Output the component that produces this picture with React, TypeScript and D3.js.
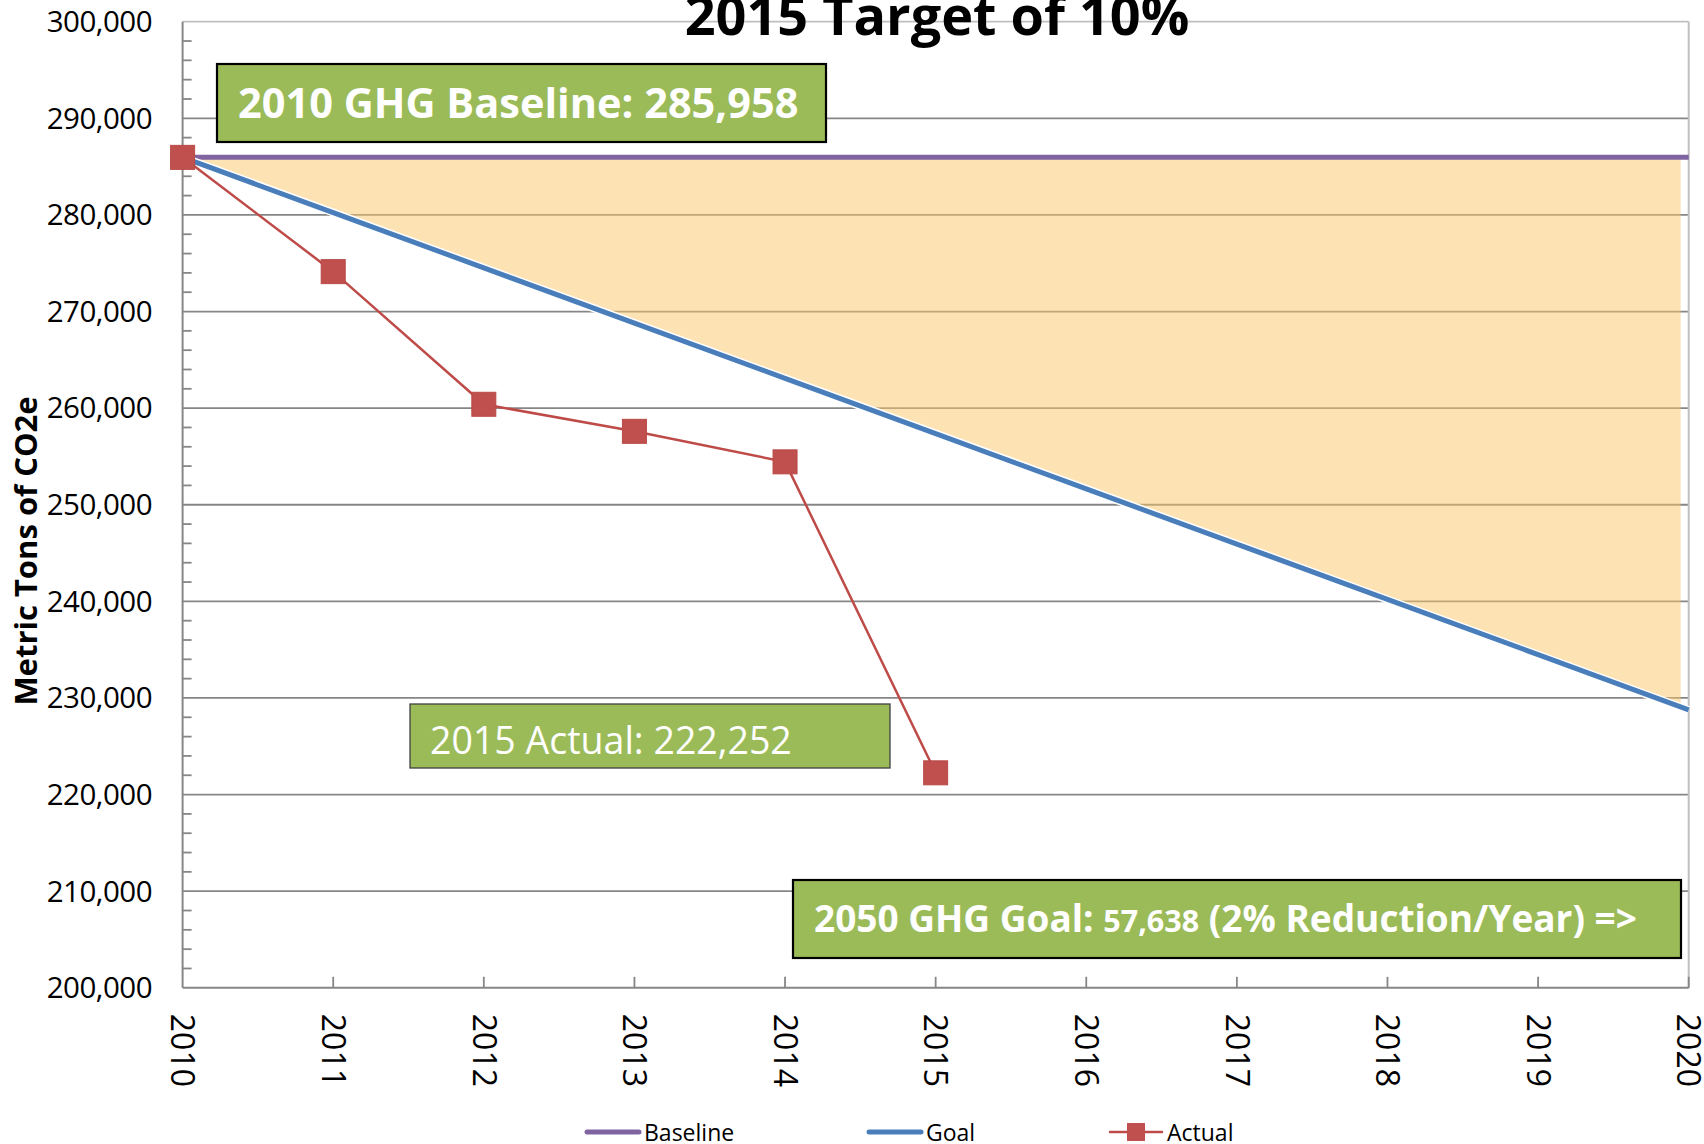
import { useEffect, useRef } from "react";
import * as d3 from "d3";

const years = [2010, 2011, 2012, 2013, 2014, 2015, 2016, 2017, 2018, 2019, 2020];
const baseline = [285958, 285958, 285958, 285958, 285958, 285958, 285958, 285958, 285958, 285958, 285958];
const goal = [285958, 280239, 274520, 268800, 263081, 257362, 251643, 245924, 240204, 234485, 228766];
const actualYears = [2010, 2011, 2012, 2013, 2014, 2015];
const actual = [285958, 274130, 260400, 257600, 254440, 222252];
const yTicks = [200000, 210000, 220000, 230000, 240000, 250000, 260000, 270000, 280000, 290000, 300000];

const FONT = "'Open Sans', 'Noto Sans', sans-serif";

const App = () => {
  const ref = useRef<SVGSVGElement | null>(null);

  useEffect(() => {
    document.body.style.margin = "0";
    const svg = d3.select(ref.current);
    svg.selectAll("*").remove();

    const x = d3.scaleLinear().domain([2010, 2020]).range([182.6, 1688.7]);
    const y = d3.scaleLinear().domain([200000, 300000]).range([987.8, 21.7]);

    // gridlines
    svg
      .append("g")
      .selectAll("line")
      .data(yTicks.slice(1))
      .enter()
      .append("line")
      .attr("x1", x(2010))
      .attr("x2", x(2020))
      .attr("y1", (d) => y(d))
      .attr("y2", (d) => y(d))
      .attr("stroke", (d) => (d === 300000 ? "#bfbfbf" : "#868686"))
      .attr("stroke-width", 1.8);

    // shaded gap between baseline and goal
    svg
      .append("clipPath")
      .attr("id", "fill-clip")
      .append("rect")
      .attr("x", x(2010))
      .attr("y", 0)
      .attr("width", x(2020) - x(2010) - 8)
      .attr("height", 1144);

    const area = d3
      .area<number>()
      .x((d, i) => x(years[i]))
      .y0((d) => y(d))
      .y1((d, i) => y(goal[i]));

    svg
      .append("path")
      .datum(baseline)
      .attr("d", area)
      .attr("clip-path", "url(#fill-clip)")
      .attr("fill", "#fcc86a")
      .attr("opacity", 0.5);

    // right border
    svg
      .append("line")
      .attr("x1", x(2020))
      .attr("x2", x(2020))
      .attr("y1", y(300000))
      .attr("y2", y(200000))
      .attr("stroke", "#bfbfbf")
      .attr("stroke-width", 2);

    // y axis + minor ticks
    svg
      .append("line")
      .attr("x1", x(2010))
      .attr("x2", x(2010))
      .attr("y1", y(300000))
      .attr("y2", y(200000))
      .attr("stroke", "#868686")
      .attr("stroke-width", 2);

    svg
      .append("g")
      .selectAll("line")
      .data(d3.range(200000, 300001, 2000).filter((v) => v % 10000 !== 0))
      .enter()
      .append("line")
      .attr("x1", x(2010))
      .attr("x2", x(2010) + 9)
      .attr("y1", (d) => y(d))
      .attr("y2", (d) => y(d))
      .attr("stroke", "#868686")
      .attr("stroke-width", 1.8);

    svg
      .append("g")
      .selectAll("text")
      .data(yTicks)
      .enter()
      .append("text")
      .attr("x", 152)
      .attr("y", (d) => y(d))
      .attr("dy", "0.35em")
      .attr("text-anchor", "end")
      .style("font-family", FONT)
      .style("font-size", "29.5px")
      .style("letter-spacing", "-0.5px")
      .text((d) => d3.format(",")(d));

    // x axis
    svg
      .append("line")
      .attr("x1", x(2010))
      .attr("x2", x(2020))
      .attr("y1", y(200000))
      .attr("y2", y(200000))
      .attr("stroke", "#868686")
      .attr("stroke-width", 2);

    svg
      .append("g")
      .selectAll("line")
      .data(years.slice(1))
      .enter()
      .append("line")
      .attr("x1", (d) => x(d))
      .attr("x2", (d) => x(d))
      .attr("y1", y(200000))
      .attr("y2", y(200000) - 11)
      .attr("stroke", "#868686")
      .attr("stroke-width", 1.8);

    svg
      .append("g")
      .selectAll("text")
      .data(years)
      .enter()
      .append("text")
      .attr("transform", (d) => `translate(${x(d)},${y(200000) + 26}) rotate(90)`)
      .attr("dy", "0.35em")
      .style("font-family", FONT)
      .style("font-size", "32px")
      .text((d) => d);

    svg
      .append("text")
      .attr("transform", `translate(26,${551}) rotate(-90)`)
      .attr("dy", "0.35em")
      .attr("text-anchor", "middle")
      .style("font-family", FONT)
      .style("font-weight", "bold")
      .style("font-size", "31px")
      .text("Metric Tons of CO2e");

    // lines
    const line = d3
      .line<number>()
      .x((d, i) => x(years[i]))
      .y((d) => y(d));

    svg
      .append("path")
      .datum(baseline)
      .attr("d", line)
      .attr("fill", "none")
      .attr("stroke", "#8064a2")
      .attr("stroke-width", 5);

    svg
      .append("path")
      .datum(goal)
      .attr("d", line)
      .attr("fill", "none")
      .attr("stroke", "#ffffff")
      .attr("stroke-width", 8);

    svg
      .append("path")
      .datum(goal)
      .attr("d", line)
      .attr("fill", "none")
      .attr("stroke", "#4a7ebb")
      .attr("stroke-width", 5);

    const actualLine = d3
      .line<number>()
      .x((d, i) => x(actualYears[i]))
      .y((d) => y(d));

    svg
      .append("path")
      .datum(actual)
      .attr("d", actualLine)
      .attr("fill", "none")
      .attr("stroke", "#be4b48")
      .attr("stroke-width", 2.5);

    svg
      .append("g")
      .selectAll("rect")
      .data(actual)
      .enter()
      .append("rect")
      .attr("x", (d, i) => x(actualYears[i]) - 12)
      .attr("y", (d) => y(d) - 12)
      .attr("width", 24)
      .attr("height", 24)
      .attr("fill", "#c0504d")
      .attr("stroke", "#b94a47")
      .attr("stroke-width", 1);

    // annotation boxes
    const box = (bx, by, bw, bh, sw) =>
      svg
        .append("rect")
        .attr("x", bx)
        .attr("y", by)
        .attr("width", bw)
        .attr("height", bh)
        .attr("fill", "#9bbb59")
        .attr("stroke", sw > 1.5 ? "#000000" : "#404040")
        .attr("stroke-width", sw);

    box(217, 64, 609, 78, 2.2);
    svg
      .append("text")
      .attr("x", 238)
      .attr("y", 118)
      .attr("fill", "#ffffff")
      .style("font-family", FONT)
      .style("font-weight", "bold")
      .style("font-size", "41.5px")
      .text("2010 GHG Baseline: 285,958");

    box(410, 704, 480, 64, 1.3);
    svg
      .append("text")
      .attr("x", 430)
      .attr("y", 754)
      .attr("fill", "#ffffff")
      .style("font-family", FONT)
      .style("font-size", "37.5px")
      .text("2015 Actual: 222,252");

    box(793, 880, 888, 78, 2.2);
    const goalText = svg
      .append("text")
      .attr("x", 814)
      .attr("y", 932)
      .attr("fill", "#ffffff")
      .style("font-family", FONT)
      .style("font-weight", "bold")
      .style("font-size", "37px");
    goalText.append("tspan").text("2050 GHG Goal: ");
    goalText.append("tspan").style("font-size", "30.5px").text("57,638");
    goalText.append("tspan").text(" (2% Reduction/Year) =>");

    // title
    svg
      .append("text")
      .attr("x", 937)
      .attr("y", 35)
      .attr("text-anchor", "middle")
      .style("font-family", FONT)
      .style("font-weight", "bold")
      .style("font-size", "54px")
      .text("2015 Target of 10%");

    // legend
    const legend = svg.append("g").attr("transform", "translate(0,1132)");
    const items = [
      { name: "Baseline", color: "#8064a2", x: 587 },
      { name: "Goal", color: "#4a7ebb", x: 869 },
      { name: "Actual", color: "#be4b48", x: 1110 },
    ];
    items.forEach((it) => {
      legend
        .append("line")
        .attr("x1", it.x)
        .attr("x2", it.x + 52)
        .attr("stroke", it.color)
        .attr("stroke-width", it.name === "Actual" ? 2.5 : 5)
        .attr("stroke-linecap", "round");
      if (it.name === "Actual") {
        legend
          .append("rect")
          .attr("x", it.x + 26 - 9)
          .attr("y", -9)
          .attr("width", 18)
          .attr("height", 18)
          .attr("fill", "#c0504d");
      }
      legend
        .append("text")
        .attr("x", it.x + 57)
        .attr("y", 9)
        .style("font-family", FONT)
        .style("font-size", "23px")
        .text(it.name);
    });
  }, []);

  return <svg ref={ref} width={1704} height={1144} style={{ display: "block" }} />;
};

export default App;
